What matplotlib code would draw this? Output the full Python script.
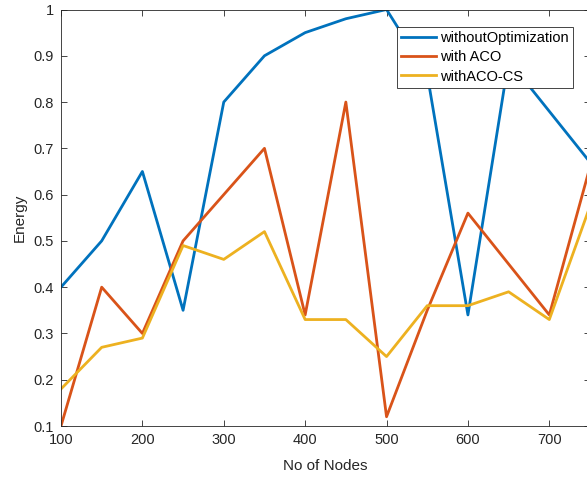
import matplotlib
matplotlib.use("Agg")
import matplotlib.pyplot as plt
from matplotlib.ticker import FuncFormatter

plt.rcParams['font.family'] = ['Liberation Sans', 'DejaVu Sans']

nodes = [100, 150, 200, 250, 300, 350, 400, 450, 500, 550, 600, 650, 700, 750]
without_opt = [0.40, 0.50, 0.65, 0.35, 0.80, 0.90, 0.95, 0.98, 1.00, 0.86, 0.34, 0.89, 0.78, 0.67]
with_aco = [0.10, 0.40, 0.30, 0.50, 0.60, 0.70, 0.34, 0.80, 0.12, 0.35, 0.56, 0.45, 0.34, 0.66]
with_aco_cs = [0.18, 0.27, 0.29, 0.49, 0.46, 0.52, 0.33, 0.33, 0.25, 0.36, 0.36, 0.39, 0.33, 0.575]

xticks = [100, 200, 300, 400, 500, 600, 700]
yticks = [0.1, 0.2, 0.3, 0.4, 0.5, 0.6, 0.7, 0.8, 0.9, 1.0]

fig = plt.figure(figsize=(5.87, 4.8), dpi=100)
ax = fig.add_axes([61/587, 1 - 426/480, 529/587, (426 - 9.5)/480])

ax.plot(nodes, without_opt, color='#0072BD', lw=2, label='withoutOptimization')
ax.plot(nodes, with_aco, color='#D95319', lw=2, label='with ACO')
ax.plot(nodes, with_aco_cs, color='#EDB120', lw=2, label='withACO-CS')

ax.set_xlim(100, 750)
ax.set_ylim(0.1, 1.0)
ax.set_xticks(xticks)
ax.set_yticks(yticks)
ax.yaxis.set_major_formatter(FuncFormatter(lambda v, p: f"{v:g}"))
ax.tick_params(direction='in', top=True, right=True, length=4, width=0.6,
               colors='#262626', labelsize=10.5, pad=5)
for s in ax.spines.values():
    s.set_color('#262626')
    s.set_linewidth(0.6)

ax.set_xlabel('No of Nodes', fontsize=11, color='#262626', labelpad=9)
ax.set_ylabel('Energy', fontsize=11, color='#262626', labelpad=5)

leg = ax.legend(loc='upper right', fontsize=10.5, frameon=True, fancybox=False,
                handlelength=2.4, handletextpad=0.25, borderpad=0.3, labelspacing=0.35,
                borderaxespad=0)
leg.get_frame().set_edgecolor('#262626')
leg.get_frame().set_linewidth(0.6)
leg.get_frame().set_alpha(1)
leg.set_bbox_to_anchor((573/587, 1 - 27/480), transform=fig.transFigure)

fig.savefig('out.png', dpi=100)
